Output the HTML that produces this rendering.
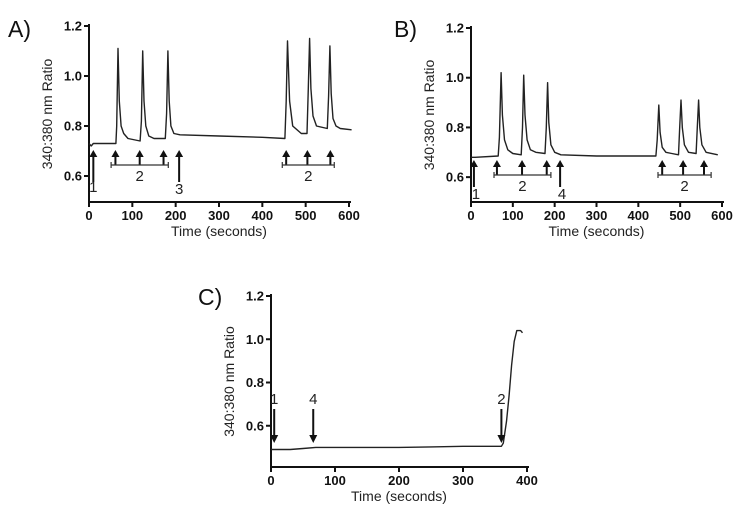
<!DOCTYPE html>
<html><head><meta charset="utf-8">
<style>
html,body{margin:0;padding:0;background:#fff;}
svg{display:block;font-family:"Liberation Sans",Arial,sans-serif;}
.tick{font-size:13px;font-weight:bold;fill:#111;}
.ttl{font-size:14px;fill:#222;}
.lab{font-size:23px;fill:#111;}
.num{font-size:15px;fill:#222;}
</style></head>
<body>
<svg id="fig" width="747" height="517" viewBox="0 0 747 517"></svg>
<script>
// Panel A data
const aTimes  = [0,5,10,62,64,67,70,74,80,90,118,121,124,127,131,138,150,176,179,182,185,189,196,210,300,400,452,455,458,463,470,490,503,506,509,512,517,525,550,553,556,559,563,570,580,606];
const aValues = [0.73,0.72,0.73,0.73,0.80,1.11,0.90,0.80,0.77,0.75,0.74,0.82,1.10,0.90,0.80,0.76,0.75,0.75,0.85,1.10,0.90,0.80,0.77,0.765,0.76,0.755,0.75,0.90,1.14,0.90,0.80,0.77,0.77,0.95,1.15,0.95,0.84,0.80,0.79,0.92,1.12,0.93,0.83,0.80,0.79,0.785];
// Panel B data
const bTimes  = [0,10,65,68,72,75,80,88,100,120,123,126,129,134,142,155,177,180,183,186,191,200,215,300,400,442,445,449,452,457,466,480,496,499,502,505,510,520,538,541,544,547,552,562,590];
const bValues = [0.68,0.68,0.685,0.76,1.02,0.85,0.75,0.71,0.695,0.69,0.80,1.01,0.85,0.75,0.71,0.70,0.695,0.80,0.98,0.82,0.73,0.70,0.69,0.685,0.685,0.685,0.75,0.89,0.78,0.72,0.70,0.695,0.69,0.80,0.91,0.80,0.73,0.70,0.695,0.80,0.91,0.80,0.73,0.70,0.69];
// Panel C data
const cTimes  = [0,10,30,50,70,100,150,200,250,300,340,360,363,368,372,376,380,384,390,393];
const cValues = [0.49,0.49,0.49,0.495,0.50,0.50,0.50,0.50,0.502,0.505,0.505,0.505,0.52,0.62,0.74,0.88,0.99,1.04,1.04,1.03];
const yTickValsA = [0.6,0.8,1.0,1.2];
const xTickVals6 = [0,100,200,300,400,500,600];
const xTickValsC = [0,100,200,300,400];
const yTickValsC = [0.6,0.8,1.0,1.2];
// Arrow annotations (times)
const aSingleArrows = [10,208];
const aSingleLabels = ["1","3"];
const aGroup1 = [61,117,172];
const aGroup2 = [455,504,557];
const bSingleArrows = [7,213];
const bSingleLabels = ["1","4"];
const bGroup1 = [62,122,181];
const bGroup2 = [457,507,557];
const cDownArrows = [5,66,360];
const cDownLabels = ["1","4","2"];

const NS="http://www.w3.org/2000/svg";
const svg=document.getElementById('fig');
function mk(tag,attrs,parent,text){const e=document.createElementNS(NS,tag);for(const k in attrs)e.setAttribute(k,attrs[k]);if(text!==undefined)e.textContent=text;(parent||svg).appendChild(e);return e;}

function panel(p){
  const g=mk('g',{});
  
  
  const X=t=>p.x0+(t-p.xmin)/(p.xmax-p.xmin)*(p.x1-p.x0);
  const Y=v=>p.yb+(v-p.ymin)/(p.ymax-p.ymin)*(p.yt-p.yb);
  const ax=mk('path',{d:`M${p.x0} ${p.yt-2} V${p.axisY} H${p.x1+2}`,stroke:'#111','stroke-width':2,fill:'none'},g);
  
  
  p.yticks.forEach(v=>{
    const y=Y(v);
    mk('line',{x1:p.x0-5,x2:p.x0,y1:y,y2:y,stroke:'#111','stroke-width':2},g);
    const t=mk('text',{x:p.x0-7,y:y+4.5,'text-anchor':'end',class:'tick'},g,v.toFixed(1));
    
    
  });
  p.xticks.forEach(v=>{
    const x=X(v);
    mk('line',{x1:x,x2:x,y1:p.axisY,y2:p.axisY+5,stroke:'#111','stroke-width':2},g);
    const t=mk('text',{x:x,y:p.axisY+18,'text-anchor':'middle',class:'tick'},g,String(v));
    
    
  });
  const yt=mk('text',{x:0,y:0,transform:`translate(${p.x0-37},${(p.yt+p.axisY)/2}) rotate(-90)`,'text-anchor':'middle',class:'ttl'},g,'340:380 nm Ratio');
  
  
  const xt=mk('text',{x:(p.x0+p.x1)/2,y:p.axisY+34,'text-anchor':'middle',class:'ttl'},g,'Time (seconds)');
  
  
  const lb=mk('text',{x:p.lx,y:p.ly,class:'lab'},g,p.label);
  
  
  let d='';p.times.forEach((t,i)=>{d+=(i?'L':'M')+X(t).toFixed(1)+' '+Y(p.values[i]).toFixed(1);});
  const tr=mk('path',{d:d,stroke:'#222','stroke-width':1.4,fill:'none','stroke-linejoin':'round'},g);
  
  
  return {g,X,Y};
}
function upArrow(g,x,yHead,yBot){
  mk('line',{x1:x,x2:x,y1:yHead+5,y2:yBot,stroke:'#111','stroke-width':2},g);
  const a=mk('path',{d:`M${x-4} ${yHead+7} L${x} ${yHead} L${x+4} ${yHead+7}Z`,fill:'#111'},g);
  
  
}
function downArrow(g,x,yTop,yHead){
  mk('line',{x1:x,x2:x,y1:yTop,y2:yHead-5,stroke:'#111','stroke-width':2},g);
  const a=mk('path',{d:`M${x-4} ${yHead-8} L${x} ${yHead} L${x+4} ${yHead-8}Z`,fill:'#111'},g);
  
  
}
function group(g,X,times,head,bY,labY,t0,t1){
  times.forEach(t=>upArrow(g,X(t),head,bY));
  mk('path',{d:`M${X(t0)} ${bY-3} V${bY+3} M${X(t0)} ${bY} H${X(t1)} M${X(t1)} ${bY-3} V${bY+3}`,stroke:'#333','stroke-width':1.2,fill:'none'},g);
  const t=mk('text',{x:(X(t0)+X(t1))/2,y:labY,'text-anchor':'middle',class:'num'},g,'2');
  
  
}

// Panel A
let A=panel({name:'panel-a',x0:89,x1:349,xmin:0,xmax:600,yb:201,yt:26,ymin:0.5,ymax:1.2,axisY:202,yticks:yTickValsA,xticks:xTickVals6,times:aTimes,values:aValues,label:'A)',lx:8,ly:37});
aSingleArrows.forEach((t,i)=>{upArrow(A.g,A.X(t),150,182);const l=mk('text',{x:A.X(t),y:i?194:192,'text-anchor':'middle',class:'num'},A.g,aSingleLabels[i]);});
group(A.g,A.X,aGroup1,150,165,181,51,183);
group(A.g,A.X,aGroup2,150,165,181,446,566);

// Panel B
let B=panel({name:'panel-b',x0:471,x1:722,xmin:0,xmax:600,yb:202,yt:28,ymin:0.5,ymax:1.2,axisY:202,yticks:yTickValsA,xticks:xTickVals6,times:bTimes,values:bValues,label:'B)',lx:394,ly:37});
bSingleArrows.forEach((t,i)=>{upArrow(B.g,B.X(t),160,187);const l=mk('text',{x:B.X(t)+2,y:199,'text-anchor':'middle',class:'num'},B.g,bSingleLabels[i]);});
group(B.g,B.X,bGroup1,160,175,191,55,191);
group(B.g,B.X,bGroup2,160,175,191,447,574);

// Panel C
let C=panel({name:'panel-c',x0:271,x1:527,xmin:0,xmax:400,yb:469,yt:296,ymin:0.4,ymax:1.2,axisY:467,yticks:yTickValsC,xticks:xTickValsC,times:cTimes,values:cValues,label:'C)',lx:198,ly:305});
cDownArrows.forEach((t,i)=>{downArrow(C.g,C.X(t),409,443);const l=mk('text',{x:C.X(t),y:404,'text-anchor':'middle',class:'num'},C.g,cDownLabels[i]);});
</script>
</body></html>
